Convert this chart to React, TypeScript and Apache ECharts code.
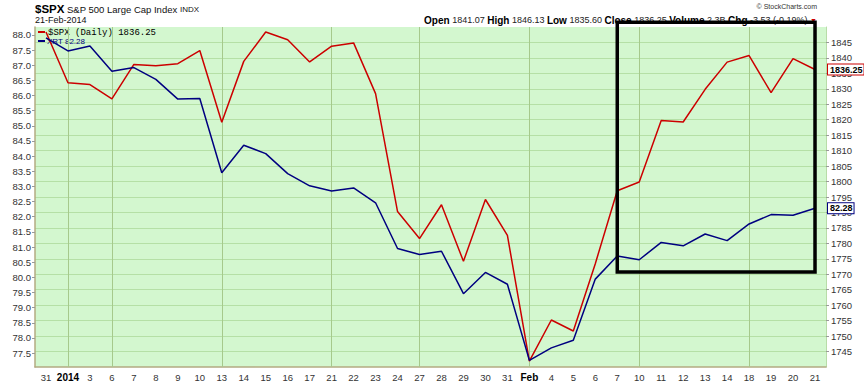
import React, { useEffect, useRef } from "react";
import * as echarts from "echarts";

const dates = ["12-31","01-02","01-03","01-06","01-07","01-08","01-09","01-10","01-13","01-14","01-15","01-16","01-17","01-21","01-22","01-23","01-24","01-27","01-28","01-29","01-30","01-31","02-03","02-04","02-05","02-06","02-07","02-10","02-11","02-12","02-13","02-14","02-18","02-19","02-20","02-21"];
const dateLabels = ["31","2014","3","6","7","8","9","10","13","14","15","16","17","21","22","23","24","27","28","29","30","31","Feb","4","5","6","7","10","11","12","13","14","18","19","20","21"];
const boldLabels = ["2014", "Feb"];
const spx = [1848.36,1831.98,1831.37,1826.77,1837.88,1837.49,1838.13,1842.37,1819.20,1838.88,1848.38,1845.89,1838.70,1843.80,1844.86,1828.46,1790.29,1781.56,1792.50,1774.20,1794.19,1782.59,1741.89,1755.20,1751.64,1773.43,1797.02,1799.84,1819.75,1819.26,1829.83,1838.63,1840.76,1828.75,1839.78,1836.25];
const xrt = [87.9,87.47,87.63,86.80,86.92,86.53,85.88,85.90,83.45,84.36,84.08,83.42,83.02,82.85,82.95,82.46,80.95,80.75,80.86,79.46,80.16,79.77,77.26,77.67,77.92,79.94,80.70,80.58,81.15,81.04,81.43,81.21,81.76,82.07,82.05,82.28];
const leftTicks = [77.5,78,78.5,79,79.5,80,80.5,81,81.5,82,82.5,83,83.5,84,84.5,85,85.5,86,86.5,87,87.5,88];
const rightTicks = [1745,1750,1755,1760,1765,1770,1775,1780,1785,1790,1795,1800,1805,1810,1815,1820,1825,1830,1835,1840,1845];
const weekLines = ["01-02","01-06","01-13","01-21","01-27","02-03","02-10","02-18"];
const boxStart = "02-07";
const boxEnd = "02-21";
const boxTopValue = 1851.5;
const boxBottomValue = 1770.7;

const F = '"Liberation Sans", Arial, sans-serif';

export default function App() {
  const ref = useRef<HTMLDivElement>(null);
  useEffect(() => {
    const chart = echarts.init(ref.current!, null, { renderer: "svg" });
    const axisColor = "#b3ab82";
    const option: any = {
      animation: false,
      backgroundColor: "#ffffff",
      grid: { left: 35, right: 38, top: 27, bottom: 15, show: true, backgroundColor: "#d3f7cf", borderWidth: 0 },
      xAxis: {
        type: "category",
        data: dates,
        boundaryGap: true,
        axisLine: { show: true, lineStyle: { color: axisColor, width: 1.5 } },
        axisTick: { show: false },
        splitLine: { show: false },
        axisLabel: {
          interval: 0,
          margin: 5,
          fontSize: 9.5,
          color: "#333",
          fontFamily: F,
          formatter: (_v: string, i: number) => {
            const l = dateLabels[i];
            return boldLabels.includes(l) ? `{b|${l}}` : l;
          },
          rich: { b: { fontWeight: "bold", fontSize: 10, color: "#000", fontFamily: F } },
        },
      },
      yAxis: [
        {
          type: "value",
          position: "left",
          min: 77.04,
          max: 88.26,
          axisLine: { show: true, lineStyle: { color: axisColor, width: 1.5 } },
          axisTick: { show: true, length: 3, customValues: leftTicks, lineStyle: { color: "#999" } },
          axisLabel: { customValues: leftTicks, formatter: (v: number) => v.toFixed(1), margin: 4, fontSize: 9.5, color: "#333", fontFamily: F },
          splitLine: { show: false },
        },
        {
          type: "value",
          position: "right",
          min: 1740,
          max: 1850,
          axisLine: { show: true, lineStyle: { color: "#b8dca8", width: 1 } },
          axisTick: { show: true, length: 3, customValues: rightTicks, lineStyle: { color: "#999" } },
          axisLabel: { customValues: rightTicks, formatter: (v: number) => String(v), margin: 5, fontSize: 9.5, color: "#333", fontFamily: F },
          splitLine: { show: true, lineStyle: { color: "#b5e0a6", width: 1 } },
        },
      ],
      series: [
        {
          type: "line",
          data: dates.map(() => null),
          yAxisIndex: 0,
          silent: true,
          symbol: "none",
          z: 1,
          markLine: {
            silent: true,
            z: 1,
            symbol: ["none", "none"],
            label: { show: false },
            lineStyle: { color: "#a6c98c", type: "solid", width: 1 },
            data: weekLines.map((d) => ({ xAxis: d })),
          },
        },
        {
          type: "line",
          name: "$SPX",
          data: spx,
          yAxisIndex: 1,
          symbol: "none",
          z: 3,
          lineStyle: { color: "#cc0000", width: 1.5 },
          endLabel: {
            show: true,
            formatter: () => spx[spx.length - 1].toFixed(2),
            distance: 13,
            color: "#000",
            fontWeight: "bold",
            fontSize: 9,
            fontFamily: F,
            backgroundColor: "#fff",
            borderColor: "#cc0000",
            borderWidth: 1,
            padding: [1, 1, 0, 2],
          },
        },
        {
          type: "line",
          name: "XRT",
          data: xrt,
          yAxisIndex: 0,
          symbol: "none",
          z: 4,
          lineStyle: { color: "#000080", width: 1.5 },
          endLabel: {
            show: true,
            formatter: () => xrt[xrt.length - 1].toFixed(2),
            distance: 13,
            color: "#000",
            fontWeight: "bold",
            fontSize: 9,
            fontFamily: F,
            backgroundColor: "#fff",
            borderColor: "#000080",
            borderWidth: 1,
            padding: [1, 1, 0, 2],
          },
        },
      ],
    };
    chart.setOption(option);

    const p1 = chart.convertToPixel({ seriesIndex: 1 }, [boxStart, boxTopValue]) as number[];
    const p2 = chart.convertToPixel({ seriesIndex: 1 }, [boxEnd, boxBottomValue]) as number[];

    const graphics: any[] = [
      { type: "text", style: { text: "$SPX", x: 35, y: 9, verticalAlign: "middle", font: `bold 11.5px ${F}`, fill: "#000" } },
      { type: "text", style: { text: "S&P 500 Large Cap Index", x: 67, y: 9, verticalAlign: "middle", font: `9.5px ${F}`, fill: "#111" } },
      { type: "text", style: { text: "INDX", x: 180, y: 9.5, verticalAlign: "middle", font: `8px ${F}`, fill: "#111" } },
      { type: "text", style: { text: "21-Feb-2014", x: 35, y: 20, verticalAlign: "middle", font: `9px ${F}`, fill: "#111" } },
      { type: "text", style: { text: "© StockCharts.com", x: 817, y: 6, align: "right", verticalAlign: "middle", font: `7px ${F}`, fill: "#333" } },
      {
        type: "text",
        style: {
          text: "{k|Open} {v|1841.07} {k|High} {v|1846.13} {k|Low} {v|1835.60} {k|Close} {v|1836.25} {k|Volume} {v|2.3B} {k|Chg} {v|-3.53 (-0.19%)} {t|▼}",
          x: 817,
          y: 20,
          align: "right",
          verticalAlign: "middle",
          font: `9px ${F}`,
          rich: {
            k: { font: `bold 10px ${F}`, fill: "#000" },
            v: { font: `9px ${F}`, fill: "#222" },
            t: { font: `7px ${F}`, fill: "#cc0000" },
          },
        },
      },
      { type: "line", shape: { x1: 38, y1: 32, x2: 45, y2: 32 }, style: { stroke: "#cc0000", lineWidth: 2 } },
      { type: "text", style: { text: "$SPX (Daily) 1836.25", x: 48, y: 32.5, verticalAlign: "middle", font: `9px "Liberation Mono", "DejaVu Sans Mono", monospace`, fill: "#000" } },
      { type: "line", shape: { x1: 38, y1: 41, x2: 45, y2: 41 }, style: { stroke: "#000080", lineWidth: 2 } },
      { type: "text", style: { text: "XRT 82.28", x: 47, y: 41, verticalAlign: "middle", font: `8px ${F}`, fill: "#000080" } },
      {
        type: "rect",
        z: 100,
        shape: { x: p1[0], y: p1[1], width: p2[0] - p1[0], height: p2[1] - p1[1] },
        style: { fill: "none", stroke: "#000", lineWidth: 3.5 },
      },
    ];
    chart.setOption({ graphic: graphics });

    return () => chart.dispose();
  }, []);
  return <div ref={ref} style={{ position: "fixed", left: 0, top: 0, width: 864, height: 382 }} />;
}
